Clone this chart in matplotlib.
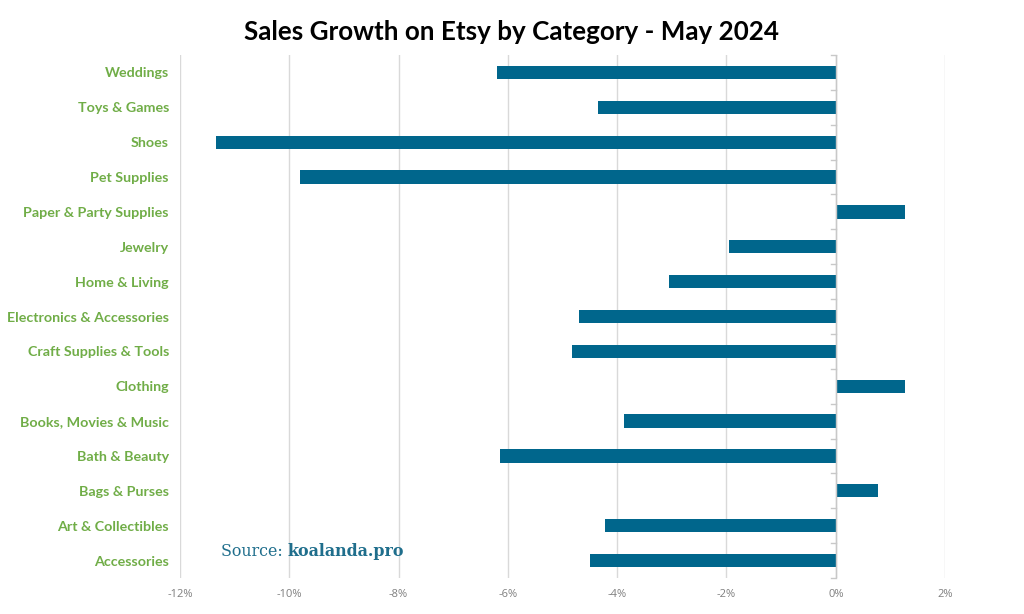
import matplotlib.pyplot as plt
import numpy as np

# Categories (top to bottom as shown) and growth values in %
categories = ["Weddings", "Toys & Games", "Shoes", "Pet Supplies",
              "Paper & Party Supplies", "Jewelry", "Home & Living",
              "Electronics & Accessories", "Craft Supplies & Tools",
              "Clothing", "Books, Movies & Music", "Bath & Beauty",
              "Bags & Purses", "Art & Collectibles", "Accessories"]
growth = [-6.2, -4.35, -11.35, -9.8, 1.27, -1.95, -3.05, -4.7, -4.83,
          1.27, -3.88, -6.15, 0.77, -4.23, -4.5]
xticks = [-12, -10, -8, -6, -4, -2, 0, 2]

bar_color = "#00668C"
label_green = "#70AD47"

fig = plt.figure(figsize=(10.24, 6.14), dpi=100)
ax = fig.add_axes([0.1758, 0.0586, 0.7471, 0.8518])

y = np.arange(len(categories))[::-1]
ax.barh(y, growth, height=0.38, color=bar_color, zorder=3)

ax.set_xlim(-12, 2)
ax.set_ylim(-0.5, len(categories) - 0.5)
ax.set_xticks(xticks)
ax.set_xticklabels([f"{t}%" for t in xticks], color="#7f7f7f",
                   fontsize=8, family="Open Sans")
ax.tick_params(axis="x", length=0, pad=8)
ax.grid(axis="x", color="#d9d9d9", linewidth=1, zorder=0)

# y labels in green, drawn at the left of the plot area
ax.set_yticks(y)
ax.set_yticklabels(categories, color=label_green, fontsize=10.3,
                   fontweight="bold", family="Lato")
ax.tick_params(axis="y", length=0, pad=8)

# vertical axis at zero with small ticks between categories
ax.axvline(0, color="#c8c8c8", linewidth=1, zorder=4)
for b in np.arange(-0.5, len(categories), 1.0):
    ax.plot([-0.08, 0], [b, b], color="#c8c8c8", linewidth=1, zorder=4,
            clip_on=False)

for s in ax.spines.values():
    s.set_visible(False)

fig.text(0.5, 0.948, "Sales Growth on Etsy by Category - May 2024",
         ha="center", va="center", fontsize=18.7, fontweight="bold",
         family="Lato", color="black")

t1 = ax.text(-11.25, 0.27, "Source: ", fontsize=11.4, family="DejaVu Serif",
             color="#1F6E8C", va="center", zorder=5)
ax.annotate("koalanda.pro", xy=(1, 0.5), xycoords=t1, va="center",
            fontsize=11.4, family="DejaVu Serif", fontweight="bold",
            color="#1F6E8C", zorder=5)

fig.savefig("out.png", dpi=100)
